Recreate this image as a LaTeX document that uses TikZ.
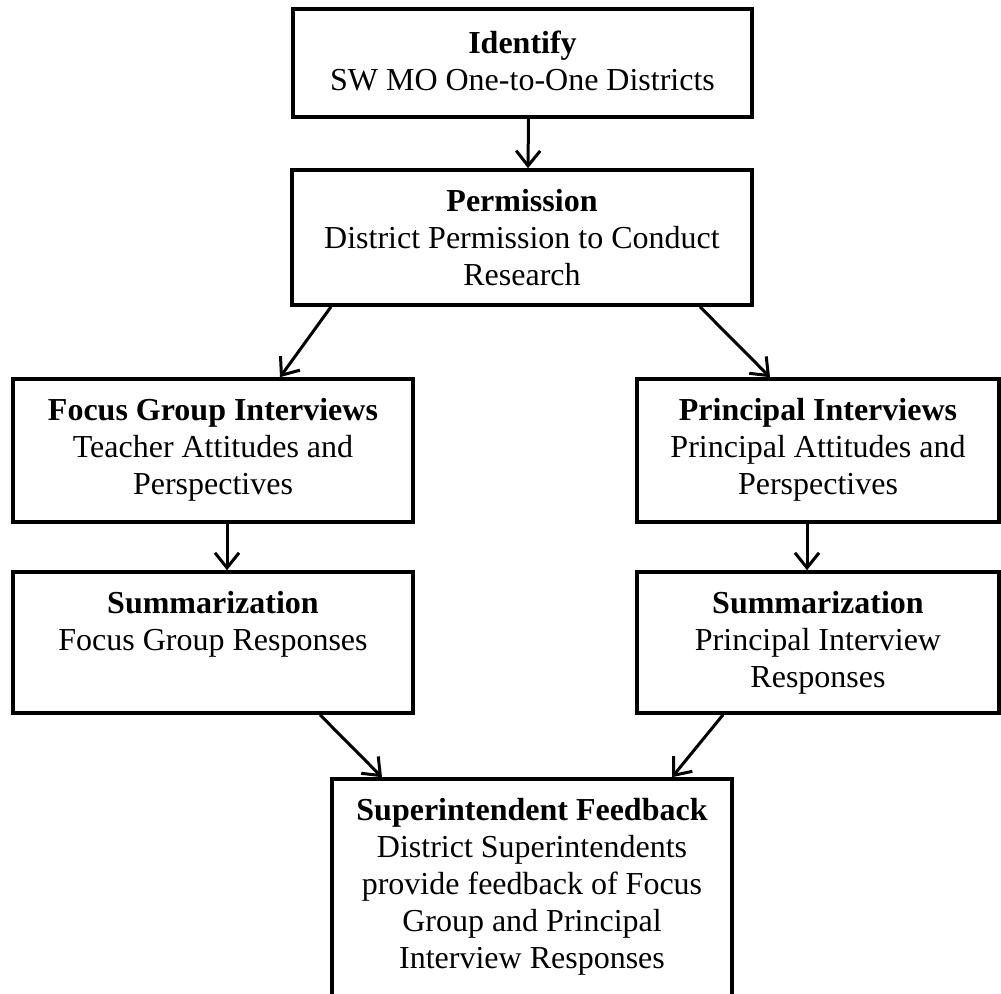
\documentclass[tikz,border=0pt]{standalone}
\usepackage{fontspec}
\setmainfont{Liberation Serif}
\usetikzlibrary{arrows.meta}

\tikzset{every picture/.style={line width=3pt}}
\tikzset{
  stagebox/.style={draw, rectangle, inner sep=0pt, line width=3.6pt},
  stagetext/.style={align=center, inner sep=0pt, anchor=north, font=\fontsize{32}{37}\selectfont},
  flow/.style={-{Straight Barb[length=15pt,width=24pt]}, line width=3pt}
}

\begin{document}
\begin{tikzpicture}[x=1pt,y=1pt,yscale=-1,xscale=1]
\useasboundingbox (0,0) rectangle (1001,993);
\clip (0,0) rectangle (1001,993);

%Shape: Rectangle
\node[stagebox, minimum width=459pt, minimum height=108pt] (identify) at (522.5,63) {};
%Shape: Rectangle
\node[stagebox, minimum width=460pt, minimum height=135pt] (permission) at (522,237.5) {};
%Shape: Rectangle
\node[stagebox, minimum width=400pt, minimum height=143pt] (focus) at (213,450.5) {};
%Shape: Rectangle
\node[stagebox, minimum width=362pt, minimum height=143pt] (principal) at (818,450.5) {};
%Shape: Rectangle
\node[stagebox, minimum width=400pt, minimum height=141pt] (focussum) at (213,642.5) {};
%Shape: Rectangle
\node[stagebox, minimum width=362pt, minimum height=141pt] (principalsum) at (818,642.5) {};
%Shape: Rectangle
\node[stagebox, minimum width=400pt, minimum height=241pt] (feedback) at (532,899.5) {};

%Straight Lines
\draw[flow] ([xshift=6pt]identify.south) -- ([xshift=6pt]permission.north);
\draw[flow] ([xshift=-191pt]permission.south) -- ([xshift=67pt]focus.north);
\draw[flow] ([xshift=178pt]permission.south) -- ([xshift=-48pt]principal.north);
\draw[flow] ([xshift=14pt]focus.south) -- ([xshift=14pt]focussum.north);
\draw[flow] ([xshift=-11pt]principal.south) -- ([xshift=-11pt]principalsum.north);
\draw[flow] ([xshift=107pt]focussum.south) -- ([xshift=-150pt]feedback.north);
\draw[flow] ([xshift=-95pt]principalsum.south) -- ([xshift=140pt]feedback.north);

% Text Node
\node[stagetext] (identifytxt) at (522.5,29) {\textbf{Identify}\\SW MO One-to-One Districts};
% Text Node
\node[stagetext] (permissiontxt) at (522,188) {\textbf{Permission}\\District Permission to Conduct\\Research};
% Text Node
\node[stagetext] (focustxt) at (213,397) {\textbf{Focus Group Interviews}\\Teacher Attitudes and\\Perspectives};
% Text Node
\node[stagetext] (principaltxt) at (818,397) {\textbf{Principal Interviews}\\Principal Attitudes and\\Perspectives};
% Text Node
\node[stagetext] (focussumtxt) at (213,590) {\textbf{Summarization}\\Focus Group Responses};
% Text Node
\node[stagetext] (principalsumtxt) at (818,590) {\textbf{Summarization}\\Principal Interview\\Responses};
% Text Node
\node[stagetext] (feedbacktxt) at (532,797) {\textbf{Superintendent Feedback}\\District Superintendents\\provide feedback of Focus\\Group and Principal\\Interview Responses};

\end{tikzpicture}
\end{document}
